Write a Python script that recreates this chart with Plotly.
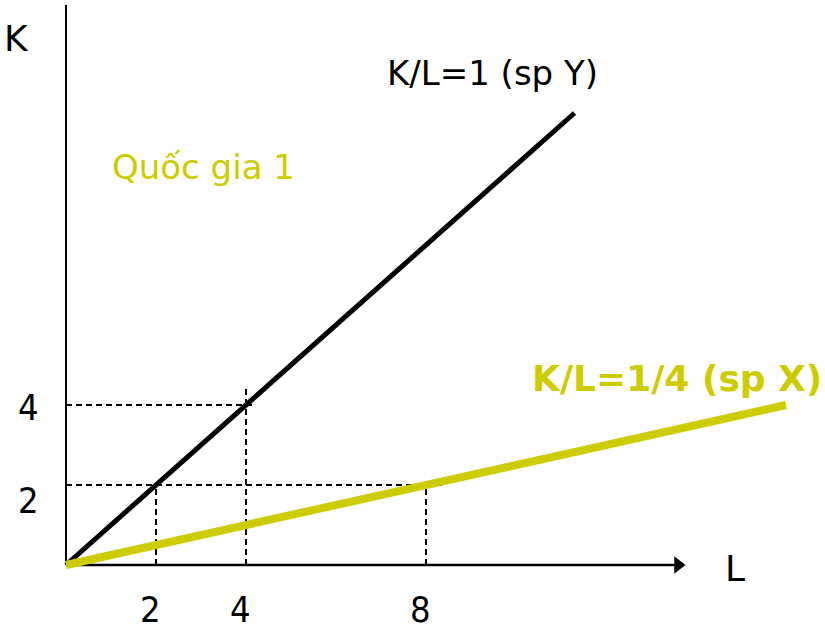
import plotly.graph_objects as go

# ---- data ----
L_ticks = [2, 4, 8]
K_ticks = [2, 4]
L_line_Y = [0, 11.3]          # K/L = 1  (sp Y)
K_line_Y = [0, 11.3]
L_line_X = [0, 16]            # K/L = 1/4 (sp X)
K_line_X = [0, 4]
# dashed guides: (L, K) corner points
guides = [
    ([2, 2], [0, 2]),
    ([4, 4], [0, 4.4]),
    ([8, 8], [0, 2]),
    ([0, 4.2], [4, 4]),
    ([0, 8.4], [2, 2]),
]
L_max = 13.6
K_max = 14

YELLOW = "#CCCC00"
FONT = "DejaVu Sans"
W, H = 825, 630
X0, Y0 = 66, 565      # origin in pixels
SX, SY = 45.0, 40.0   # pixels per unit

fig = go.Figure()

# axes
fig.add_trace(go.Scatter(x=[0, 0], y=[0, K_max], mode="lines",
                         line=dict(color="black", width=2), hoverinfo="skip"))
fig.add_trace(go.Scatter(x=[0, L_max], y=[0, 0], mode="lines",
                         line=dict(color="black", width=2.5), hoverinfo="skip"))
fig.add_trace(go.Scatter(x=[L_max], y=[0], mode="markers",
                         marker=dict(symbol="triangle-right", size=15, color="black"),
                         hoverinfo="skip"))

# dashed guides
for gx, gy in guides:
    fig.add_trace(go.Scatter(x=gx, y=gy, mode="lines",
                             line=dict(color="black", width=2, dash="6px,4px"),
                             hoverinfo="skip"))

# main lines
fig.add_trace(go.Scatter(x=L_line_Y, y=K_line_Y, mode="lines",
                         line=dict(color="black", width=5), hoverinfo="skip"))
fig.add_trace(go.Scatter(x=L_line_X, y=K_line_X, mode="lines",
                         line=dict(color=YELLOW, width=8), hoverinfo="skip"))

def px(x, y):
    return dict(x=x / W, y=1 - y / H, xref="paper", yref="paper")

ann = []
def text(t, x, y, color="black", size=34, bold=False, family=FONT):
    a = px(x, y)
    ann.append(dict(text=("<b>%s</b>" % t) if bold else t, showarrow=False,
                    xanchor="center", yanchor="middle",
                    font=dict(family=family, size=size, color=color), **a))

text("K", 16, 38, size=36)
text("L", 735, 568, size=36)
text("K/L=1 (sp Y)", 493, 73)
text("Quốc gia 1", 203, 167, color=YELLOW)
text("K/L=1/4 (sp X)", 677, 378, color=YELLOW, size=36, bold=True)

TICKFONT = dict(family="DejaVu Sans Condensed, DejaVu Sans", size=36, color="black")
for v in L_ticks:
    ann.append(dict(text=str(v), x=v, y=1 - 609 / H, xref="x", yref="paper",
                    showarrow=False, xanchor="center", yanchor="middle",
                    xshift=-6, font=TICKFONT))
for v in K_ticks:
    ann.append(dict(text=str(v), x=29 / W, y=v, xref="paper", yref="y",
                    showarrow=False, xanchor="center", yanchor="middle",
                    yshift=-2 if v == 4 else -15, font=TICKFONT))

fig.update_layout(
    width=W, height=H,
    margin=dict(l=0, r=0, t=0, b=0),
    paper_bgcolor="white", plot_bgcolor="white",
    showlegend=False,
    xaxis=dict(visible=False, range=[-X0 / SX, (W - X0) / SX], fixedrange=True),
    yaxis=dict(visible=False, range=[-(H - Y0) / SY, Y0 / SY], fixedrange=True),
    annotations=ann,
)

fig.write_html("out.html", config={"displayModeBar": False},
               post_script="document.body.style.margin='0';document.body.style.overflow='hidden';")
